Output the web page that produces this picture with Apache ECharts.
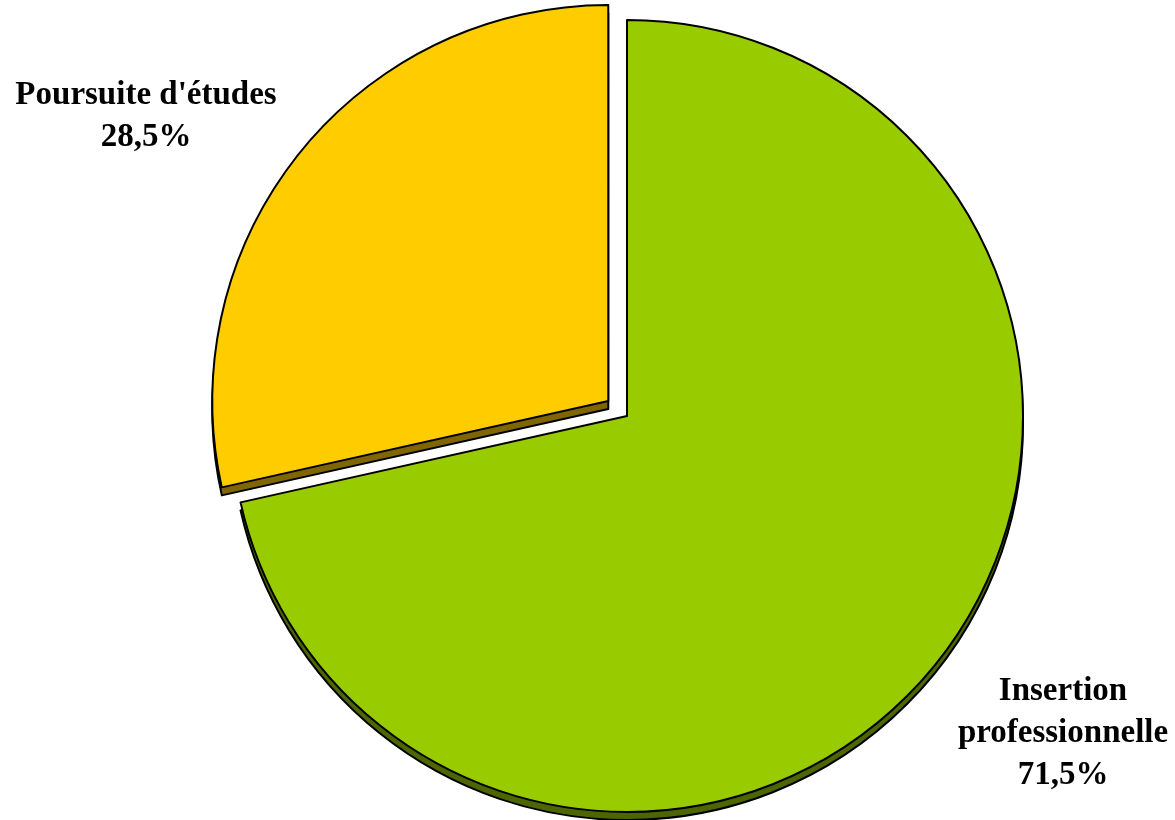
<!DOCTYPE html>
<html><head><meta charset="utf-8">
<script src="https://cdn.jsdelivr.net/npm/echarts@6/dist/echarts.min.js"></script>
<style>html,body{margin:0;padding:0;background:#fff}#c{width:1175px;height:820px}</style>
</head><body><div id="c"></div>
<script>
const categories = ["Insertion\nprofessionnelle", "Poursuite d'études"];
const values = [71.5, 28.5];
const faceColors = ["#99CC00", "#FFCC00"];
const sideColors = ["#4D6600", "#806600"];
const labelPos = [[1063, 733], [146, 116]];

const chart = echarts.init(document.getElementById('c'), null, {renderer: 'canvas'});
function makeData(colors, sel) {
  return categories.map((name, i) => ({
    name: name,
    value: values[i],
    selected: sel && i === 1,
    itemStyle: {color: colors ? colors[i] : 'rgba(0,0,0,0)'}
  }));
}
const common = {
  type: 'pie',
  radius: 396,
  startAngle: 90,
  clockwise: true,
  selectedMode: 'single',
  selectedOffset: 24,
  avoidLabelOverlap: false,
  animation: false,
  silent: true,
  emphasis: {disabled: true},
  label: {show: false},
  labelLine: {show: false},
  itemStyle: {borderColor: '#000', borderWidth: 2}
};
chart.setOption({
  backgroundColor: '#fff',
  series: [
    Object.assign({}, common, {
      center: [627, 424],
      z: 1,
      data: makeData(sideColors, true)
    }),
    Object.assign({}, common, {
      center: [627, 416],
      z: 2,
      data: makeData(faceColors, true)
    }),
    Object.assign({}, common, {
      center: [627, 416],
      z: 3,
      selectedMode: false,
      itemStyle: {borderWidth: 0},
      label: {
        show: true,
        position: 'outside',
        fontFamily: '"Liberation Serif", "Times New Roman", serif',
        fontWeight: 'bold',
        fontSize: 33,
        lineHeight: 42,
        color: '#000',
        align: 'center',
        formatter: p => p.name + '\n' + p.value.toFixed(1).replace('.', ',') + '%'
      },
      labelLayout: p => ({
        x: labelPos[p.dataIndex][0],
        y: labelPos[p.dataIndex][1],
        align: 'center',
        verticalAlign: 'middle'
      }),
      data: makeData(null, false)
    })
  ]
});
</script></body></html>
